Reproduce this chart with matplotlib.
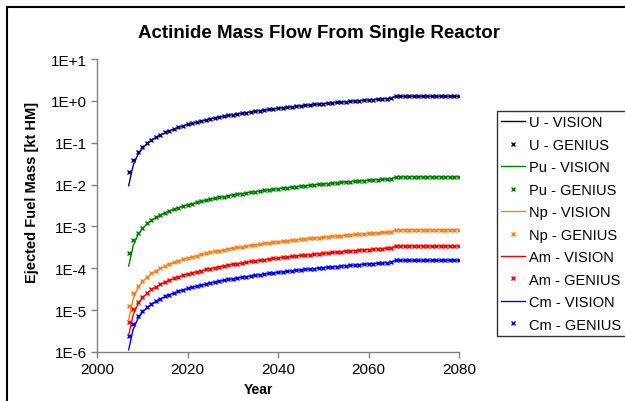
import numpy as np
import matplotlib
matplotlib.use('Agg')
import matplotlib.pyplot as plt
from matplotlib.patches import Rectangle
from matplotlib.ticker import FixedLocator, FuncFormatter

plt.rcParams['font.family'] = ['Liberation Sans', 'DejaVu Sans']

# GENIUS results, one point per year
genius_years = list(range(2007, 2081))

u_genius = [0.0195, 0.039, 0.0585, 0.078, 0.0975, 0.117, 0.137, 0.156, 0.176, 0.195,
            0.215, 0.234, 0.254, 0.273, 0.293, 0.312, 0.332, 0.351, 0.371, 0.39,
            0.41, 0.429, 0.449, 0.468, 0.488, 0.507, 0.527, 0.546, 0.566, 0.585,
            0.605, 0.624, 0.644, 0.663, 0.683, 0.702, 0.722, 0.741, 0.761, 0.78,
            0.80, 0.819, 0.839, 0.858, 0.878, 0.897, 0.917, 0.936, 0.956, 0.975,
            0.995, 1.01, 1.03, 1.05, 1.07, 1.09, 1.11, 1.13, 1.15,
            1.29, 1.29, 1.29, 1.29, 1.29, 1.29, 1.29, 1.29, 1.29, 1.29,
            1.29, 1.29, 1.29, 1.29, 1.29]
# Pu in 1e-4 kt
pu_genius = [2.35, 4.7, 7.05, 9.4, 11.8, 14.1, 16.5, 18.8, 21.2, 23.5,
             25.9, 28.2, 30.6, 32.9, 35.3, 37.6, 40.0, 42.3, 44.7, 47.0,
             49.4, 51.7, 54.1, 56.4, 58.8, 61.1, 63.5, 65.8, 68.2, 70.5,
             72.9, 75.2, 77.6, 79.9, 82.3, 84.6, 87.0, 89.3, 91.7, 94.0,
             96.4, 98.7, 101, 103, 106, 108, 110, 113, 115, 118,
             120, 122, 125, 127, 129, 132, 134, 136, 139,
             153, 153, 153, 153, 153, 153, 153, 153, 153, 153,
             153, 153, 153, 153, 153]
# Np in 1e-5 kt
np_genius = [1.26, 2.52, 3.78, 5.04, 6.3, 7.56, 8.82, 10.1, 11.3, 12.6,
             13.9, 15.1, 16.4, 17.6, 18.9, 20.2, 21.4, 22.7, 23.9, 25.2,
             26.5, 27.7, 29.0, 30.2, 31.5, 32.8, 34.0, 35.3, 36.5, 37.8,
             39.1, 40.3, 41.6, 42.8, 44.1, 45.4, 46.6, 47.9, 49.1, 50.4,
             51.7, 52.9, 54.2, 55.4, 56.7, 58.0, 59.2, 60.5, 61.7, 63.0,
             64.3, 65.5, 66.8, 68.0, 69.3, 70.6, 71.8, 73.1, 74.3,
             83, 83, 83, 83, 83, 83, 83, 83, 83, 83,
             83, 83, 83, 83, 83]
# Am in 1e-6 kt
am_genius = [5.2, 10.4, 15.6, 20.8, 26.0, 31.2, 36.4, 41.6, 46.8, 52.0,
             57.2, 62.4, 67.6, 72.8, 78.0, 83.2, 88.4, 93.6, 98.8, 104,
             109, 114, 120, 125, 130, 135, 140, 146, 151, 156,
             161, 166, 172, 177, 182, 187, 192, 198, 203, 208,
             213, 218, 224, 229, 234, 239, 244, 250, 255, 260,
             265, 270, 276, 281, 286, 291, 296, 302, 307,
             340, 340, 340, 340, 340, 340, 340, 340, 340, 340,
             340, 340, 340, 340, 340]
# Cm in 1e-6 kt
cm_genius = [2.35, 4.7, 7.05, 9.4, 11.8, 14.1, 16.5, 18.8, 21.2, 23.5,
             25.9, 28.2, 30.6, 32.9, 35.3, 37.6, 40.0, 42.3, 44.7, 47.0,
             49.4, 51.7, 54.1, 56.4, 58.8, 61.1, 63.5, 65.8, 68.2, 70.5,
             72.9, 75.2, 77.6, 79.9, 82.3, 84.6, 87.0, 89.3, 91.7, 94.0,
             96.4, 98.7, 101, 103, 106, 108, 110, 113, 115, 118,
             120, 122, 125, 127, 129, 132, 134, 136, 139,
             155, 155, 155, 155, 155, 155, 155, 155, 155, 155,
             155, 155, 155, 155, 155]

# VISION results
vision_years = [2007, 2008, 2009, 2010, 2011, 2012, 2014, 2016, 2018, 2020, 2025,
                2030, 2035, 2040, 2045, 2050, 2055, 2060, 2065, 2066, 2080]
u_vision = [0.0094, 0.029, 0.051, 0.072, 0.094, 0.115, 0.154, 0.193, 0.232, 0.271, 0.369,
            0.466, 0.564, 0.661, 0.759, 0.856, 0.954, 1.05, 1.15, 1.29, 1.29]
pu_vision = [1.13, 3.5, 6.1, 8.7, 11.3, 13.9, 18.6, 23.3, 28.0, 32.7, 44.4,
             56.2, 67.9, 79.7, 91.4, 103, 115, 127, 138, 153, 153]
np_vision = [0.6, 1.9, 3.3, 4.7, 6.0, 7.4, 10.0, 12.5, 15.0, 17.5, 23.8,
             30.1, 36.4, 42.7, 49.0, 55.3, 61.6, 67.9, 74.2, 83, 83]
am_vision = [2.5, 7.8, 13.5, 19.2, 25.0, 30.7, 41.1, 51.5, 61.9, 72.3, 98.3,
             124, 150, 176, 202, 228, 254, 280, 306, 340, 340]
cm_vision = [1.13, 3.5, 6.1, 8.7, 11.3, 13.9, 18.6, 23.3, 28.0, 32.7, 44.4,
             56.2, 67.9, 79.7, 91.4, 103, 115, 127, 138, 155, 155]

elements = ['U', 'Pu', 'Np', 'Am', 'Cm']
units = [1.0, 1e-4, 1e-5, 1e-6, 1e-6]
colors = ['#000080', '#008000', '#ff7f1a', '#ff0000', '#0000ff']
vision = [u_vision, pu_vision, np_vision, am_vision, cm_vision]
genius = [u_genius, pu_genius, np_genius, am_genius, cm_genius]

y_ticks = [1e-6, 1e-5, 1e-4, 1e-3, 1e-2, 1e-1, 1e0, 1e1]
x_ticks = [2000, 2020, 2040, 2060, 2080]

fig = plt.figure(figsize=(6.25, 4.02), dpi=100)
ax = fig.add_axes([97 / 625, 1 - 353 / 402, 362 / 625, 293 / 402])

for name, unit, c, v, g in zip(elements, units, colors, vision, genius):
    ax.plot(vision_years, np.array(v) * unit, color=c, lw=1.0, label=name + ' - VISION')
    ax.plot(genius_years, np.array(g) * unit, ls='none', marker='x', ms=3.2, mew=1.0,
            color=c, label=name + ' - GENIUS')

ax.set_yscale('log')
ax.set_ylim(1e-6, 1e1)
ax.set_xlim(2000, 2080)
ax.yaxis.set_major_locator(FixedLocator(y_ticks))
ax.yaxis.set_minor_locator(FixedLocator([]))
ax.yaxis.set_major_formatter(FuncFormatter(lambda v, p: '1E%+d' % int(round(np.log10(v)))))
ax.xaxis.set_major_locator(FixedLocator(x_ticks))

for s in ['top', 'right']:
    ax.spines[s].set_visible(False)
for s in ['left', 'bottom']:
    ax.spines[s].set_color('#808080')
    ax.spines[s].set_linewidth(1.0)
ax.tick_params(axis='both', direction='out', length=4, width=1, color='#808080',
               labelsize=11, pad=3.5)

leg = ax.legend(loc='upper left', bbox_to_anchor=(497 / 625, 1 - 112 / 402),
                bbox_transform=fig.transFigure, borderaxespad=0, fontsize=10.5,
                frameon=True, fancybox=False, edgecolor='black', handlelength=1.6,
                handletextpad=0.3, labelspacing=0.58, borderpad=0.3)
leg.get_frame().set_linewidth(1.0)

fig.text(319.5 / 625, 1 - 34 / 402, 'Actinide Mass Flow From Single Reactor',
         ha='center', va='center', fontsize=13.5, fontweight='bold')
fig.text(32 / 625, 1 - 192 / 402, 'Ejected Fuel Mass [kt HM]', rotation=90,
         ha='center', va='center', fontsize=10.5, fontweight='bold')
fig.text(258 / 625, 1 - 390 / 402, 'Year', ha='center', va='center',
         fontsize=10, fontweight='bold')

# outer chart frame, cut by the image edge on the right and bottom
fig.add_artist(Rectangle((7 / 625, -0.2), 1.3, 1.2 - 8 / 402, transform=fig.transFigure,
                         fill=False, lw=1.5, ec='black'))

fig.savefig('out.png', dpi=100)
